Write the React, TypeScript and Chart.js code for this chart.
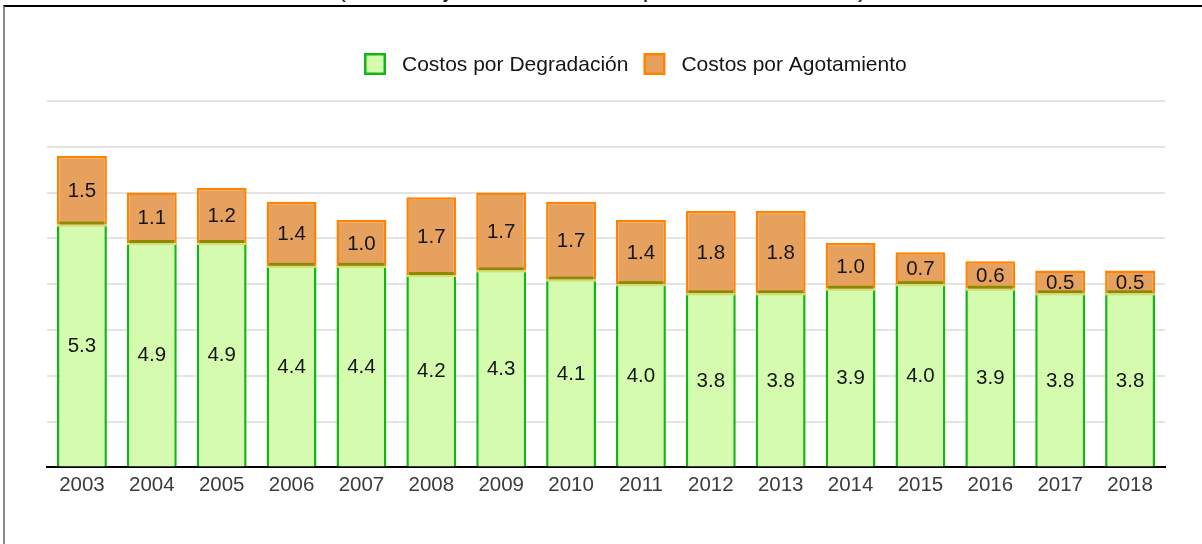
import React, { useEffect, useRef } from "react";
import { Chart, registerables } from "chart.js";

Chart.register(...registerables);

const titleText = "(Porcentajes sobre el PIB a precios de mercado)";
const years = ["2003", "2004", "2005", "2006", "2007", "2008", "2009", "2010", "2011", "2012", "2013", "2014", "2015", "2016", "2017", "2018"];
const degradacion = [5.3, 4.9, 4.9, 4.4, 4.4, 4.2, 4.3, 4.1, 4.0, 3.8, 3.8, 3.9, 4.0, 3.9, 3.8, 3.8];
const agotamiento = [1.5, 1.1, 1.2, 1.4, 1.0, 1.7, 1.7, 1.7, 1.4, 1.8, 1.8, 1.0, 0.7, 0.6, 0.5, 0.5];
const seriesNames = ["Costos por Degradación", "Costos por Agotamiento"];
const yMin = 0;
const yMax = 8;
const yStep = 1;

const GREEN_FILL = "#d5fcae";
const GREEN_LINE = "#12b612";
const ORANGE_FILL = "#e6a15e";
const ORANGE_LINE = "#ff8300";
const FONT = "Arial, 'Liberation Sans', sans-serif";

const valueLabels = {
  id: "valueLabels",
  afterDatasetsDraw(chart: any) {
    const ctx = chart.ctx;
    ctx.save();
    ctx.font = `20.5px ${FONT}`;
    ctx.fillStyle = "#151515";
    ctx.textAlign = "center";
    ctx.textBaseline = "middle";
    chart.data.datasets.forEach((ds: any, di: number) => {
      const meta = chart.getDatasetMeta(di);
      meta.data.forEach((el: any, i: number) => {
        const { x, y, base } = el.getProps(["x", "y", "base"], true);
        ctx.fillText(Number(ds.data[i]).toFixed(1), x, (y + base) / 2 + 1);
      });
    });
    ctx.restore();
  },
};

const boundaryBand = {
  id: "boundaryBand",
  afterDatasetsDraw(chart: any) {
    const ctx = chart.ctx;
    const meta = chart.getDatasetMeta(0);
    ctx.save();
    meta.data.forEach((el: any) => {
      const { x, y, width } = el.getProps(["x", "y", "width"], true);
      const l = x - width / 2;
      ctx.fillStyle = "#8c8a00";
      ctx.fillRect(l + 2.5, y - 3, width - 5, 3);
      ctx.fillStyle = "#d6dc78";
      ctx.fillRect(l, y, width, 2);
    });
    ctx.restore();
  },
};

const customLegend = {
  id: "customLegend",
  afterDraw(chart: any) {
    const ctx = chart.ctx;
    ctx.save();
    ctx.font = `21px ${FONT}`;
    ctx.textBaseline = "middle";
    ctx.textAlign = "left";
    const box = 22;
    const gapText = 16;
    const gapItem = 15;
    const items = chart.data.datasets.map((ds: any) => ({
      label: ds.label,
      fill: ds.backgroundColor,
      line: ds.borderColor,
      w: ctx.measureText(ds.label).width,
    }));
    let x = 364;
    const top = 53;
    items.forEach((it: any) => {
      ctx.fillStyle = it.line;
      ctx.fillRect(x, top, box, box);
      ctx.fillStyle = it.fill;
      ctx.fillRect(x + 2.5, top + 2.5, box - 5, box - 5);
      ctx.fillStyle = "#151515";
      ctx.fillText(it.label, x + box + gapText, top + box / 2 + 1);
      x += box + gapText + it.w + gapItem;
    });
    ctx.restore();
  },
};

export default function App() {
  const canvasRef = useRef<HTMLCanvasElement | null>(null);

  useEffect(() => {
    document.body.style.margin = "0";
    const canvas = canvasRef.current;
    if (!canvas) return;
    const chart = new Chart(canvas, {
      type: "bar",
      data: {
        labels: years,
        datasets: [
          {
            label: seriesNames[0],
            data: degradacion,
            backgroundColor: GREEN_FILL,
            borderColor: GREEN_LINE,
            borderWidth: { top: 0, left: 2.5, right: 2.5, bottom: 0 },
            borderSkipped: false,
          },
          {
            label: seriesNames[1],
            data: agotamiento,
            backgroundColor: ORANGE_FILL,
            borderColor: ORANGE_LINE,
            borderWidth: { top: 2.5, left: 2.5, right: 2.5, bottom: 0 },
            borderSkipped: false,
          },
        ],
      },
      options: {
        animation: false,
        responsive: false,
        maintainAspectRatio: false,
        devicePixelRatio: 1,
        layout: { padding: { top: 101, left: 47, right: 37, bottom: 48 } },
        datasets: { bar: { categoryPercentage: 1, barPercentage: 0.714 } },
        plugins: {
          legend: { display: false },
          tooltip: { enabled: false },
          title: { display: false },
        },
        scales: {
          x: {
            stacked: true,
            z: 1,
            grid: { display: false },
            border: { display: true, color: "#000", width: 2 },
            ticks: {
              color: "#3c3c3c",
              font: { family: FONT, size: 20.5 },
              padding: -2,
              maxRotation: 0,
              autoSkip: false,
            },
          },
          y: {
            stacked: true,
            min: yMin,
            max: yMax,
            ticks: { display: false, stepSize: yStep },
            grid: { color: "#e4e4e4", lineWidth: 2, drawTicks: false },
            border: { display: false },
          },
        },
      },
      plugins: [boundaryBand, valueLabels, customLegend],
    });
    return () => chart.destroy();
  }, []);

  return (
    <div style={{ position: "relative", width: 1202, height: 544, overflow: "hidden", background: "#fff" }}>
      <div
        style={{
          position: "absolute",
          left: 0,
          width: 1202,
          top: -23,
          textAlign: "center",
          fontFamily: FONT,
          fontSize: "24.5px",
          lineHeight: "24px",
          color: "#111",
          paddingLeft: 1,
        }}
      >
        {titleText}
      </div>
      <div
        style={{
          position: "absolute",
          left: 3,
          top: 5,
          right: 0,
          bottom: -10,
          borderTop: "2px solid #000",
          borderLeft: "2px solid #888",
        }}
      />
      <canvas ref={canvasRef} width={1202} height={544} style={{ position: "absolute", left: 0, top: 0 }} />
    </div>
  );
}
